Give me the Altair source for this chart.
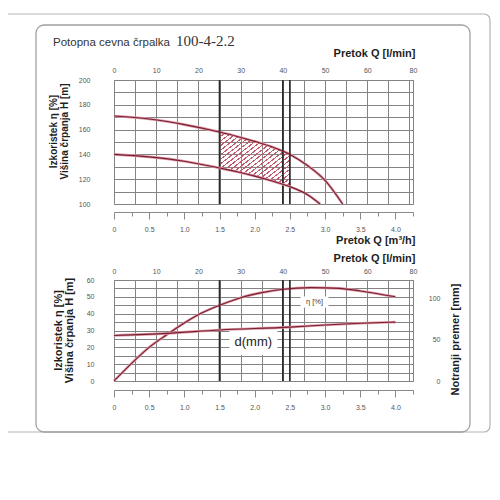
import json
import altair as alt
import pandas as pd

# ---------------- values ----------------
# upper H-Q curve: Q [m3/h] -> H [m]
hmax_q = [0, 0.5, 1.0, 1.5, 1.75, 2.0, 2.25, 2.5, 2.75, 3.0, 3.25]
hmax_h = [171, 168.5, 164, 158, 154.5, 150.5, 146, 140, 131, 119, 100]
# lower H-Q curve
hmin_q = [0, 0.5, 1.0, 1.5, 1.75, 2.0, 2.25, 2.5, 2.75, 2.93]
hmin_h = [140, 138, 134.5, 129, 126, 122.5, 118.5, 114, 107.5, 100]
# hatched working range
work_q = [1.5, 1.75, 2.0, 2.25, 2.5]
work_hi = [158, 154.5, 150.5, 146, 140]
work_lo = [129, 126, 122.5, 118.5, 114]
# heavy vertical lines
heavy_q = [1.5, 2.4, 2.5]
# efficiency curve  eta [%]
eta_q = [0, 0.25, 0.5, 0.75, 1.0, 1.25, 1.5, 1.8, 2.1, 2.4, 2.8, 3.2, 3.5, 4.0]
eta_v = [0, 10.5, 20, 27.5, 34.5, 40.5, 45, 49.5, 52.5, 54.5, 55.5, 55, 53.5, 50]
# inner diameter curve d [mm] (right axis)
d_q = [0, 0.75, 1.5, 2.5, 3.0, 3.5, 4.0]
d_mm = [54.8, 57.4, 61.5, 64.9, 67.5, 69.6, 71.0]
# curve labels
ann_text = ["η [%]", "d(mm)"]
ann_q = [2.85, 1.98]
ann_y = [46.9, 23.0]

# axes
q_domain = [0, 4.25]
m3h_ticks = [0, 0.25, 0.5, 0.75, 1.0, 1.25, 1.5, 1.75, 2.0, 2.25, 2.5, 2.75,
             3.0, 3.25, 3.5, 3.75, 4.0, 4.25]
m3h_label_q = [0, 0.5, 1.0, 1.5, 2.0, 2.5, 3.0, 3.5, 4.0]
m3h_labels = ["0", "0.5", "1.0", "1.5", "2.0", "2.5", "3.0", "3.5", "4.0"]
lmin_grid_q = [0, 0.3, 0.6, 0.9, 1.2, 1.5, 1.8, 2.1, 2.4, 2.7, 3.0, 3.3, 3.6,
               3.9, 4.2, 4.25]
lmin_label_q = [0, 0.6, 1.2, 1.8, 2.4, 3.0, 3.6, 4.25]
lmin_labels = ["0", "10", "20", "30", "40", "50", "60", "80"]
h_domain = [100, 200]
h_ticks = [100, 110, 120, 130, 140, 150, 160, 170, 180, 190, 200]
h_label_vals = [100, 120, 140, 160, 180, 200]
eta_domain = [0, 60]
eta_ticks = [0, 5, 10, 15, 20, 25, 30, 35, 40, 45, 50, 55, 60]
eta_label_vals = [0, 10, 20, 30, 40, 50, 60]
d_domain = [0, 121.7]
d_ticks = [0, 50, 100]

title_a = "Potopna cevna črpalka"
title_b = "100-4-2.2"

# ---------------- tables ----------------
df_hmax = pd.DataFrame({"q": hmax_q, "h": hmax_h})
df_hmin = pd.DataFrame({"q": hmin_q, "h": hmin_h})
df_work = pd.DataFrame({"q": work_q, "hi": work_hi, "lo": work_lo})
df_heavy = pd.DataFrame({"q": heavy_q})
df_eta = pd.DataFrame({"q": eta_q, "v": eta_v})
df_d = pd.DataFrame({"q": d_q, "d": d_mm})
df_ann = pd.DataFrame({"t": ann_text, "q": ann_q, "y": ann_y})
df_one = pd.DataFrame({"k": [0]})

# ---------------- styling ----------------
W, H1, H2 = 299, 124, 101
SANS = "Liberation Sans"
GRID = "#838383"
LAB = "#555555"
TCOL = "#1e1e1e"
CORE = "#7a1f33"
HALO = "#dc98a4"
HATCH = "#c45a6c"
HALO_W, CORE_W = 2.6, 1.1


def a(v):
    return json.dumps(v, ensure_ascii=False)


def pick(vals, labels):
    return (f"indexof({a(vals)}, datum.value) >= 0 ? "
            f"{a(labels)}[indexof({a(vals)}, datum.value)] : ''")


def show_if(vals):
    return f"indexof({a(vals)}, datum.value) >= 0 ? datum.label : ''"


major_test = f"indexof({a(m3h_label_q)}, datum.value) >= 0"

xs = alt.Scale(domain=q_domain, nice=False, zero=False)


def bottom_axis(offset, title=None, title_y=0):
    kw = dict(orient="bottom", values=m3h_ticks, labelExpr=pick(m3h_label_q, m3h_labels),
              offset=offset, domainColor="#8a8a8a", domainWidth=1, tickColor="#8a8a8a",
              tickWidth=1, tickSize={"condition": {"test": major_test, "value": 7}, "value": 4},
              labelFont=SANS, labelFontSize=7, labelColor=LAB, labelPadding=6,
              labelBaseline="top", labelFlush=False, labelOverlap=False, grid=False)
    if title:
        kw.update(title=title, titleFont=SANS, titleFontSize=11, titleFontWeight="bold",
                  titleColor=TCOL, titleAlign="right", titleAnchor="end", titleX=W + 2,
                  titleY=title_y, titleBaseline="alphabetic")
    else:
        kw.update(title="")
    return alt.Axis(**kw)


def top_axis(label_pad, title_y):
    return alt.Axis(orient="top", values=lmin_grid_q, labelExpr=pick(lmin_label_q, lmin_labels),
                    grid=True, gridColor=GRID, gridWidth=1, ticks=False, tickSize=0, domain=False,
                    labelFont=SANS, labelFontSize=7, labelColor=LAB, labelPadding=label_pad,
                    labelFlush=False, labelOverlap=False,
                    title="Pretok Q [l/min]", titleFont=SANS, titleFontSize=11,
                    titleFontWeight="bold", titleColor=TCOL, titleAlign="right",
                    titleAnchor="end", titleX=W + 2, titleY=title_y, titleBaseline="alphabetic")


def left_axis(ticks, label_vals, pad, tx, ty, fs):
    return alt.Axis(orient="left", values=ticks, labelExpr=show_if(label_vals), grid=True,
                    gridColor=GRID, gridWidth=1, ticks=False, tickSize=0, domain=False,
                    labelFont=SANS, labelFontSize=7, labelColor=LAB, labelPadding=pad,
                    labelOverlap=False,
                    title=["Izkoristek η [%]", "Višina črpanja H [m]"], titleFont=SANS,
                    titleFontSize=fs, titleFontWeight="bold", titleColor=TCOL, titleAngle=270,
                    titleX=tx, titleY=ty, titleAlign="center", titleBaseline="alphabetic",
                    titleLineHeight=11)


# ---------------- top panel (H-Q) ----------------
ys1 = alt.Scale(domain=h_domain, nice=False, zero=False)

stops = []
N = 24
clear = "rgba(255,255,255,0)"
for i in range(N):
    s0, s1, s2 = round(i / N, 4), round((i + 0.3) / N, 4), round((i + 1) / N, 4)
    stops += [alt.GradientStop(offset=s0, color=HATCH), alt.GradientStop(offset=s1, color=HATCH),
              alt.GradientStop(offset=s1, color=clear), alt.GradientStop(offset=s2, color=clear)]
hatch = alt.LinearGradient(gradient="linear", stops=stops, x1=0, y1=0, x2=1, y2=1)

area = alt.Chart(df_work).mark_area(color=hatch, interpolate="monotone").encode(
    x=alt.X("q:Q", scale=xs, axis=None),
    y=alt.Y("hi:Q", scale=ys1, axis=None),
    y2="lo:Q")

hmax_halo = alt.Chart(df_hmax).mark_line(color=HALO, strokeWidth=HALO_W, interpolate="monotone").encode(
    x=alt.X("q:Q", scale=xs, axis=bottom_axis(8, "Pretok Q [m³/h]", 31)),
    y=alt.Y("h:Q", scale=ys1, axis=left_axis(h_ticks, h_label_vals, 24, -58, 51, 10)))
hmax_core = alt.Chart(df_hmax).mark_line(color=CORE, strokeWidth=CORE_W, interpolate="monotone").encode(
    x=alt.X("q:Q", scale=xs, axis=None), y=alt.Y("h:Q", scale=ys1, axis=None))
hmin_halo = alt.Chart(df_hmin).mark_line(color=HALO, strokeWidth=HALO_W, interpolate="monotone").encode(
    x=alt.X("q:Q", scale=xs, axis=top_axis(7, -24)),
    y=alt.Y("h:Q", scale=ys1, axis=None))
hmin_core = alt.Chart(df_hmin).mark_line(color=CORE, strokeWidth=CORE_W, interpolate="monotone").encode(
    x=alt.X("q:Q", scale=xs, axis=None), y=alt.Y("h:Q", scale=ys1, axis=None))

heavy1 = alt.Chart(df_heavy).mark_rule(color="#2b2b2b", strokeWidth=1.7).encode(
    x=alt.X("q:Q", scale=xs, axis=None))

outer = alt.Chart(df_one).mark_rect(fillOpacity=0, stroke="#b4b4b4", strokeWidth=1.2,
                                    cornerRadius=6).encode(
    x=alt.value(-140), x2=alt.value(376), y=alt.value(-66), y2=alt.value(352))
frame = alt.Chart(df_one).mark_rect(fillOpacity=0, stroke="#a0a0a0", strokeWidth=1.3,
                                    cornerRadius=8).encode(
    x=alt.value(-78), x2=alt.value(356), y=alt.value(-55), y2=alt.value(352))
t1 = alt.Chart(df_one).mark_text(text=title_a, align="left", baseline="alphabetic", font=SANS,
                                 fontSize=11.5, color="#333333").encode(
    x=alt.value(-61), y=alt.value(-34))
t2 = alt.Chart(df_one).mark_text(text=title_b, align="left", baseline="alphabetic",
                                 font="Liberation Serif", fontSize=15, color="#333333").encode(
    x=alt.value(62), y=alt.value(-34))

top = alt.layer(hmax_halo, area, heavy1, hmax_core, hmin_halo, hmin_core,
                outer, frame, t1, t2).resolve_axis(
    x="independent", y="independent").properties(width=W, height=H1)

# ---------------- bottom panel (eta, d) ----------------
ys_eta = alt.Scale(domain=eta_domain, nice=False, zero=False)
ys_d = alt.Scale(domain=d_domain, nice=False, zero=False)

eta_halo = alt.Chart(df_eta).mark_line(color=HALO, strokeWidth=HALO_W, interpolate="monotone").encode(
    x=alt.X("q:Q", scale=xs, axis=bottom_axis(9)),
    y=alt.Y("v:Q", scale=ys_eta, axis=left_axis(eta_ticks, eta_label_vals, 20, -53, 50, 11)))
eta_core = alt.Chart(df_eta).mark_line(color=CORE, strokeWidth=CORE_W, interpolate="monotone").encode(
    x=alt.X("q:Q", scale=xs, axis=None), y=alt.Y("v:Q", scale=ys_eta, axis=None))
d_axis = alt.Axis(orient="right", values=d_ticks, grid=False, ticks=False, tickSize=0,
                  domain=False, labelFont=SANS, labelFontSize=7, labelColor=LAB,
                  labelPadding=27, labelAlign="right", labelOverlap=False,
                  title="Notranji premer [mm]", titleFont=SANS, titleFontSize=11,
                  titleFontWeight="bold", titleColor=TCOL, titleAngle=270, titleX=45,
                  titleY=59, titleAlign="center", titleBaseline="alphabetic")
d_halo = alt.Chart(df_d).mark_line(color=HALO, strokeWidth=HALO_W, interpolate="monotone").encode(
    x=alt.X("q:Q", scale=xs, axis=top_axis(6, -19)),
    y=alt.Y("d:Q", scale=ys_d, axis=d_axis))
d_core = alt.Chart(df_d).mark_line(color=CORE, strokeWidth=CORE_W, interpolate="monotone").encode(
    x=alt.X("q:Q", scale=xs, axis=None), y=alt.Y("d:Q", scale=ys_d, axis=None))
heavy2 = alt.Chart(df_heavy).mark_rule(color="#2b2b2b", strokeWidth=1.7).encode(
    x=alt.X("q:Q", scale=xs, axis=None))

ann_base = alt.Chart(df_ann)
box_eta = ann_base.transform_filter(alt.datum.t == ann_text[0]).mark_point(
    shape="M-1,-0.4H1V0.4H-1Z", size=784, filled=True, color="white", opacity=1).encode(
    x=alt.X("q:Q", scale=xs, axis=None), y=alt.Y("y:Q", scale=ys_eta, axis=None))
box_d = ann_base.transform_filter(alt.datum.t == ann_text[1]).mark_point(
    shape="M-1,-0.52H1V0.52H-1Z", size=2304, filled=True, color="white", opacity=1).encode(
    x=alt.X("q:Q", scale=xs, axis=None), y=alt.Y("y:Q", scale=ys_eta, axis=None))
txt_eta = ann_base.transform_filter(alt.datum.t == ann_text[0]).mark_text(
    font=SANS, fontSize=7.5, color="#444444", align="center", baseline="middle").encode(
    x=alt.X("q:Q", scale=xs, axis=None), y=alt.Y("y:Q", scale=ys_eta, axis=None), text="t:N")
txt_d = ann_base.transform_filter(alt.datum.t == ann_text[1]).mark_text(
    font=SANS, fontSize=13, color="#222222", align="center", baseline="middle").encode(
    x=alt.X("q:Q", scale=xs, axis=None), y=alt.Y("y:Q", scale=ys_eta, axis=None), text="t:N")

bottom = alt.layer(eta_halo, heavy2, box_eta, box_d, eta_core, d_halo, d_core,
                   txt_eta, txt_d).resolve_scale(y="independent").resolve_axis(
    x="independent").properties(width=W, height=H2)

chart = alt.vconcat(top, bottom, spacing=76, bounds="flush").properties(
    autosize=alt.AutoSizeParams(type="none"),
    padding={"left": 106, "top": 72, "right": 79, "bottom": 404},
    background="white",
).configure_view(stroke=GRID, strokeWidth=1)

chart.save("out.html", embed_options={"renderer": "svg", "actions": False})
